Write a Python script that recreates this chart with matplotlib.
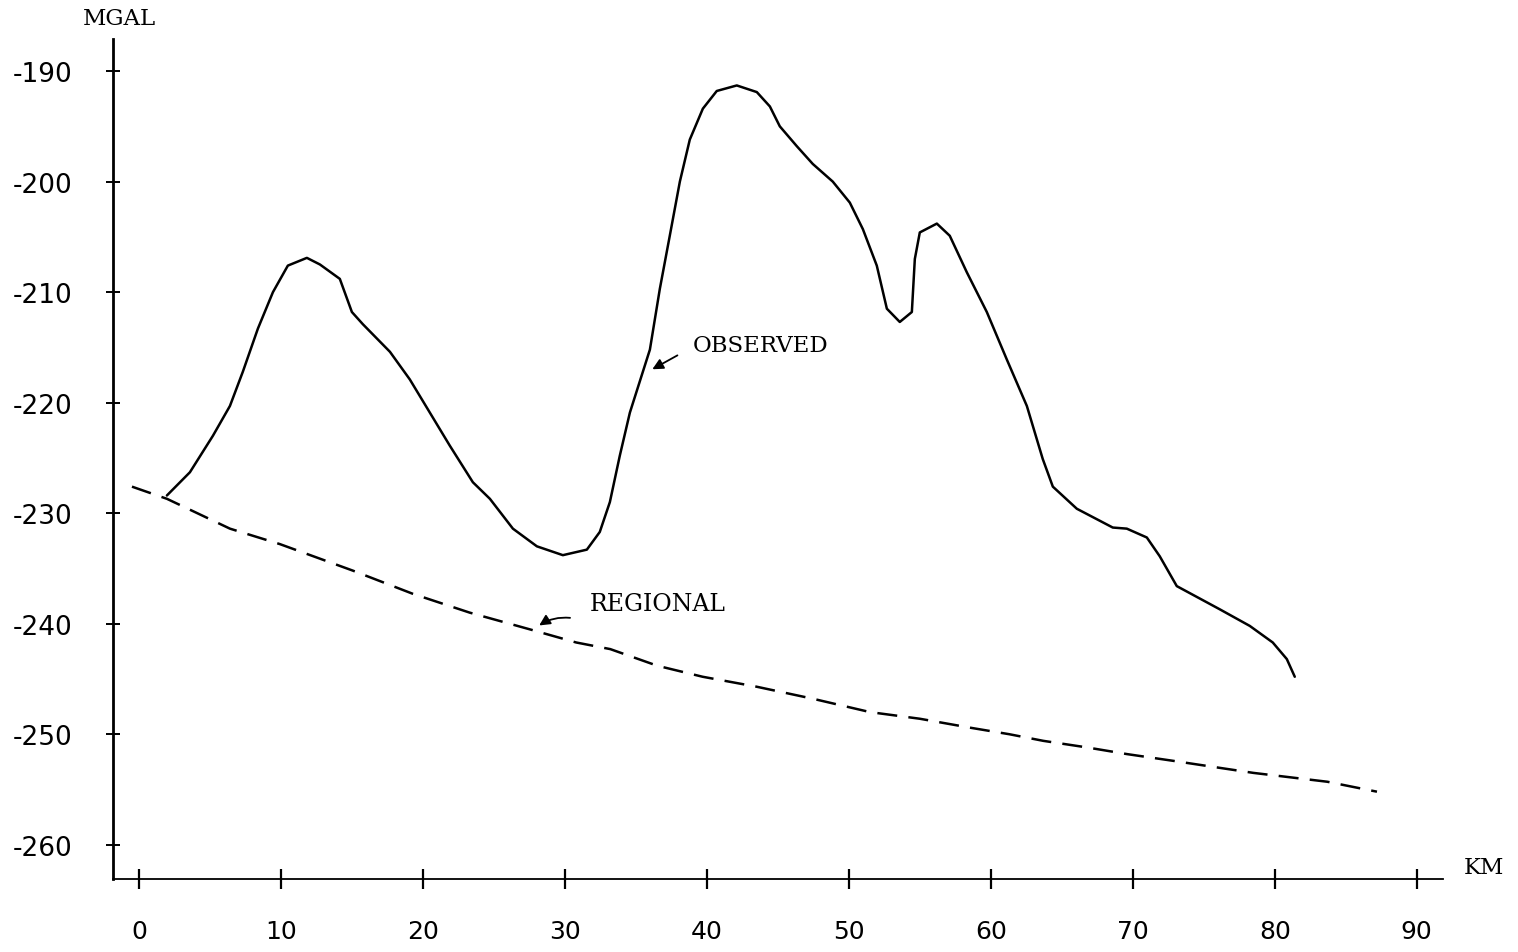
import numpy as np
import matplotlib.pyplot as plt

plt.rcParams['axes.unicode_minus'] = False

# observed gravity profile (km, mGal)
obs_km = [1.97, 3.59, 5.21, 6.41, 7.32, 8.38, 9.44, 10.49, 11.83, 12.75, 14.15, 15.0,
          15.77, 17.68, 19.08, 20.49, 21.9, 23.52, 24.72, 26.34, 28.03, 29.86, 31.55,
          32.46, 33.17, 33.87, 34.58, 35.99, 36.69, 37.39, 38.1, 38.8, 39.72, 40.7,
          42.11, 43.52, 44.44, 45.14, 46.34, 47.46, 48.87, 50.07, 50.99, 51.97, 52.68,
          53.59, 54.44, 54.65, 55.0, 56.2, 57.11, 58.31, 59.72, 61.13, 62.54, 63.66,
          64.37, 66.06, 68.59, 69.58, 70.99, 71.9, 73.1, 76.13, 78.24, 79.86, 80.85, 81.41]
obs_mgal = [-228.4, -226.3, -223.0, -220.3, -217.2, -213.3, -210.0, -207.6, -206.9, -207.5,
            -208.8, -211.8, -212.9, -215.4, -217.9, -220.9, -223.9, -227.2, -228.7, -231.4,
            -233.0, -233.8, -233.3, -231.7, -229.0, -224.8, -220.9, -215.2, -209.7, -204.9,
            -200.0, -196.2, -193.4, -191.8, -191.3, -191.9, -193.2, -195.0, -196.8, -198.4,
            -200.0, -201.9, -204.3, -207.6, -211.5, -212.7, -211.8, -207.0, -204.6, -203.8,
            -204.9, -208.2, -211.8, -216.1, -220.3, -225.1, -227.6, -229.6, -231.3, -231.4,
            -232.2, -233.9, -236.6, -238.7, -240.2, -241.7, -243.2, -244.8]

# regional trend
reg_km = [-0.49, 1.97, 6.41, 9.93, 15.07, 19.3, 23.3, 27.5, 30.8, 33.2, 36.5, 39.7, 43.5,
          47.5, 51.5, 55.0, 58.5, 61.3, 63.7, 66.8, 69.6, 72.8, 75.9, 78.5, 81.1, 83.7, 87.2]
reg_mgal = [-227.6, -228.7, -231.4, -232.8, -235.2, -237.3, -239.0, -240.5, -241.7, -242.3,
            -243.8, -244.8, -245.7, -246.8, -248.0, -248.6, -249.4, -250.0, -250.6, -251.2,
            -251.8, -252.4, -253.0, -253.5, -253.9, -254.3, -255.2]

x_ticks = np.arange(0, 91, 10)
y_ticks = np.arange(-260, -189, 10)

fig = plt.figure(figsize=(15.18, 9.53), dpi=100)
ax = fig.add_axes([0.0744, 0.0766, 0.876, 0.8814])

ax.plot(obs_km, obs_mgal, color='black', lw=1.8, solid_capstyle='round', solid_joinstyle='round')
ax.plot(reg_km, reg_mgal, color='black', lw=1.8, dashes=(8, 4.5))

ax.set_xlim(-1.83, 91.83)
ax.set_ylim(-263.1, -187.1)

for s in ['top', 'right']:
    ax.spines[s].set_visible(False)
ax.spines['left'].set_linewidth(2.0)
ax.spines['bottom'].set_linewidth(1.3)

ax.set_xticks(x_ticks)
ax.set_yticks(y_ticks)
ax.tick_params(axis='x', direction='inout', length=14, width=1.6, pad=22, labelsize=18)
ax.tick_params(axis='y', direction='inout', length=10, width=1.4, pad=24, labelsize=19)

lab = 'DejaVu Serif'
fig.text(119 / 1518, 1 - 19 / 953, 'MGAL', family=lab, fontsize=16.5, ha='center', va='center')
fig.text(1484 / 1518, 1 - 868 / 953, 'KM', family=lab, fontsize=16.5, ha='center', va='center')

ax.text(43.8, -214.8, 'OBSERVED', family=lab, fontsize=16.5, ha='center', va='center')
ax.annotate('', xy=(35.99, -217.1), xytext=(38.1, -215.6),
            arrowprops=dict(arrowstyle='-|>', color='black', lw=1.3, mutation_scale=16))

ax.text(36.55, -238.2, 'REGIONAL', family=lab, fontsize=17, ha='center', va='center')
ax.annotate('', xy=(28.03, -240.3), xytext=(30.56, -239.5),
            arrowprops=dict(arrowstyle='-|>', color='black', lw=1.3, mutation_scale=16,
                            connectionstyle='arc3,rad=0.2'))

fig.savefig('out.png', dpi=100)
